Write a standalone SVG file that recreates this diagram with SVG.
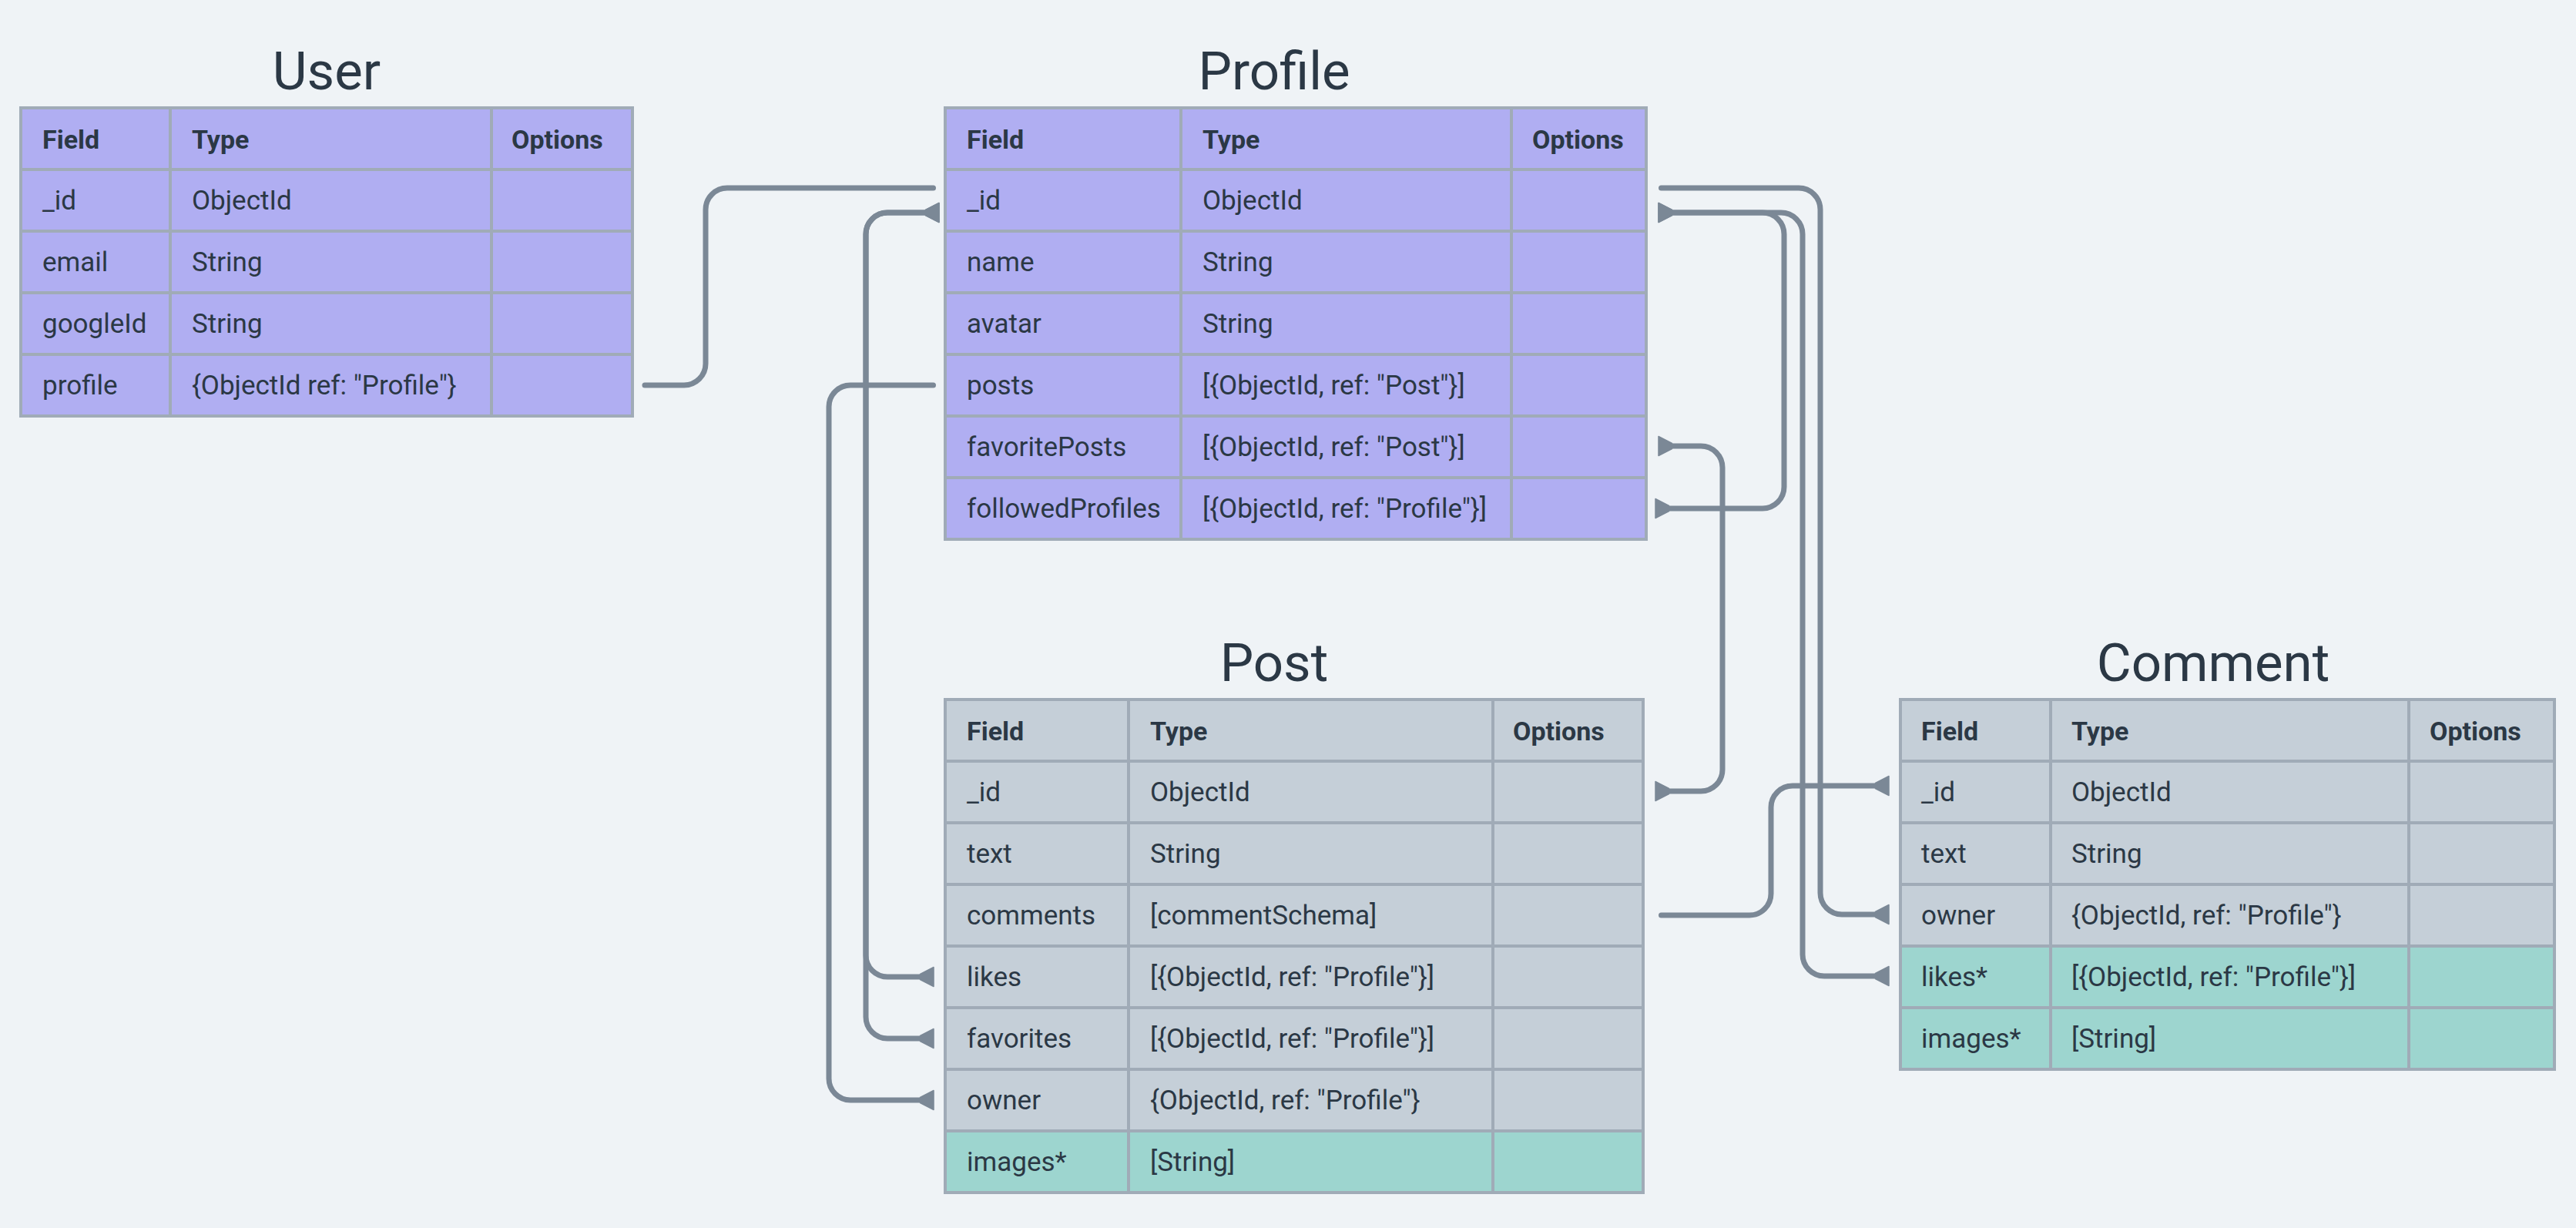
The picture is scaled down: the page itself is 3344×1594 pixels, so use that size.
<svg xmlns="http://www.w3.org/2000/svg" width="3344" height="1594" viewBox="0 0 3344 1594">
<style>
.bg{fill:#eff3f6}
.pu{fill:#b0aef2}
.gr{fill:#c5cfd8}
.te{fill:#9dd5cf}
.grid{stroke:#a0abb7;stroke-width:4;fill:none}
text{font-family:Roboto,"Liberation Sans",sans-serif;fill:#2b3845}
.t{font-size:35px}
.h{font-size:34px;font-weight:700}
.title{font-size:69px;text-anchor:middle}
.c{fill:none;stroke:#7b8896;stroke-width:7;stroke-linecap:round;stroke-linejoin:round}
</style>
<defs>
<marker id="tri" markerUnits="userSpaceOnUse" markerWidth="40" markerHeight="40" viewBox="-20 -20 40 40" refX="0" refY="0" orient="auto-start-reverse">
<path d="M3.5,-12.5 L3.5,12.5 L-14,3.5 L-14,-3.5 Z" fill="#7b8896" stroke="#7b8896" stroke-width="1.5" stroke-linejoin="round"/>
</marker>
</defs>
<rect class="bg" x="0" y="0" width="3344" height="1594"/>

<g id="user">
<text class="title" x="424" y="116">User</text>
<rect class="pu" x="27" y="140" width="794" height="400"/>
<path class="grid" d="M27 220H821M27 300H821M27 380H821M27 460H821M221 140V540M638 140V540"/>
<rect class="grid" x="27" y="140" width="794" height="400"/>
<text class="h" x="55" y="193">Field</text><text class="h" x="249" y="193">Type</text><text class="h" x="664" y="193">Options</text>
<text class="t" x="55" y="272">_id</text><text class="t" x="249" y="272">ObjectId</text>
<text class="t" x="55" y="352">email</text><text class="t" x="249" y="352">String</text>
<text class="t" x="55" y="432">googleId</text><text class="t" x="249" y="432">String</text>
<text class="t" x="55" y="512">profile</text><text class="t" x="249" y="512">{ObjectId ref: "Profile"}</text>
</g>

<g id="profile">
<text class="title" x="1654" y="116">Profile</text>
<rect class="pu" x="1227" y="140" width="910" height="560"/>
<path class="grid" d="M1227 220H2137M1227 300H2137M1227 380H2137M1227 460H2137M1227 540H2137M1227 620H2137M1533 140V700M1962 140V700"/>
<rect class="grid" x="1227" y="140" width="910" height="560"/>
<text class="h" x="1255" y="193">Field</text><text class="h" x="1561" y="193">Type</text><text class="h" x="1989" y="193">Options</text>
<text class="t" x="1255" y="272">_id</text><text class="t" x="1561" y="272">ObjectId</text>
<text class="t" x="1255" y="352">name</text><text class="t" x="1561" y="352">String</text>
<text class="t" x="1255" y="432">avatar</text><text class="t" x="1561" y="432">String</text>
<text class="t" x="1255" y="512">posts</text><text class="t" x="1561" y="512">[{ObjectId, ref: "Post"}]</text>
<text class="t" x="1255" y="592">favoritePosts</text><text class="t" x="1561" y="592">[{ObjectId, ref: "Post"}]</text>
<text class="t" x="1255" y="672">followedProfiles</text><text class="t" x="1561" y="672">[{ObjectId, ref: "Profile"}]</text>
</g>

<g id="post">
<text class="title" x="1654" y="884">Post</text>
<rect class="gr" x="1227" y="908" width="906" height="560"/>
<rect class="te" x="1227" y="1468" width="906" height="80"/>
<path class="grid" d="M1227 988H2133M1227 1068H2133M1227 1148H2133M1227 1228H2133M1227 1308H2133M1227 1388H2133M1227 1468H2133M1465 908V1548M1938 908V1548"/>
<rect class="grid" x="1227" y="908" width="906" height="640"/>
<text class="h" x="1255" y="961">Field</text><text class="h" x="1493" y="961">Type</text><text class="h" x="1964" y="961">Options</text>
<text class="t" x="1255" y="1040">_id</text><text class="t" x="1493" y="1040">ObjectId</text>
<text class="t" x="1255" y="1120">text</text><text class="t" x="1493" y="1120">String</text>
<text class="t" x="1255" y="1200">comments</text><text class="t" x="1493" y="1200">[commentSchema]</text>
<text class="t" x="1255" y="1280">likes</text><text class="t" x="1493" y="1280">[{ObjectId, ref: "Profile"}]</text>
<text class="t" x="1255" y="1360">favorites</text><text class="t" x="1493" y="1360">[{ObjectId, ref: "Profile"}]</text>
<text class="t" x="1255" y="1440">owner</text><text class="t" x="1493" y="1440">{ObjectId, ref: "Profile"}</text>
<text class="t" x="1255" y="1520">images*</text><text class="t" x="1493" y="1520">[String]</text>
</g>

<g id="comment">
<text class="title" x="2873" y="884">Comment</text>
<rect class="gr" x="2467" y="908" width="849" height="320"/>
<rect class="te" x="2467" y="1228" width="849" height="160"/>
<path class="grid" d="M2467 988H3316M2467 1068H3316M2467 1148H3316M2467 1228H3316M2467 1308H3316M2662 908V1388M3127 908V1388"/>
<rect class="grid" x="2467" y="908" width="849" height="480"/>
<text class="h" x="2494" y="961">Field</text><text class="h" x="2689" y="961">Type</text><text class="h" x="3154" y="961">Options</text>
<text class="t" x="2494" y="1040">_id</text><text class="t" x="2689" y="1040">ObjectId</text>
<text class="t" x="2494" y="1120">text</text><text class="t" x="2689" y="1120">String</text>
<text class="t" x="2494" y="1200">owner</text><text class="t" x="2689" y="1200">{ObjectId, ref: "Profile"}</text>
<text class="t" x="2494" y="1280">likes*</text><text class="t" x="2689" y="1280">[{ObjectId, ref: "Profile"}]</text>
<text class="t" x="2494" y="1360">images*</text><text class="t" x="2689" y="1360">[String]</text>
</g>

<g id="connectors">
<path class="c" d="M837 500H888A28 28 0 0 0 916 472V272A28 28 0 0 1 944 244H1211.5"/>
<path class="c" marker-start="url(#tri)" marker-end="url(#tri)" d="M1215.5 276H1152A28 28 0 0 0 1124 304V1240A28 28 0 0 0 1152 1268H1208.5"/>
<path class="c" marker-start="url(#tri)" marker-end="url(#tri)" d="M1215.5 276H1152A28 28 0 0 0 1124 304V1320A28 28 0 0 0 1152 1348H1208.5"/>
<path class="c" marker-end="url(#tri)" d="M1211.5 500H1104A28 28 0 0 0 1076 528V1400A28 28 0 0 0 1104 1428H1208.5"/>
<path class="c" marker-end="url(#tri)" d="M2156.5 244H2335A28 28 0 0 1 2363 272V1159A28 28 0 0 0 2391 1187H2448.5"/>
<path class="c" marker-start="url(#tri)" marker-end="url(#tri)" d="M2156.5 276H2312A28 28 0 0 1 2340 304V1239A28 28 0 0 0 2368 1267H2448.5"/>
<path class="c" marker-start="url(#tri)" marker-end="url(#tri)" d="M2156.5 276H2288A28 28 0 0 1 2316 304V632A28 28 0 0 1 2288 660H2152.5"/>
<path class="c" marker-start="url(#tri)" marker-end="url(#tri)" d="M2156.5 579H2208A28 28 0 0 1 2236 607V999A28 28 0 0 1 2208 1027H2152.5"/>
<path class="c" marker-end="url(#tri)" d="M2156.5 1188H2271A28 28 0 0 0 2299 1160V1048A28 28 0 0 1 2327 1020H2448.5"/>
</g>
</svg>
